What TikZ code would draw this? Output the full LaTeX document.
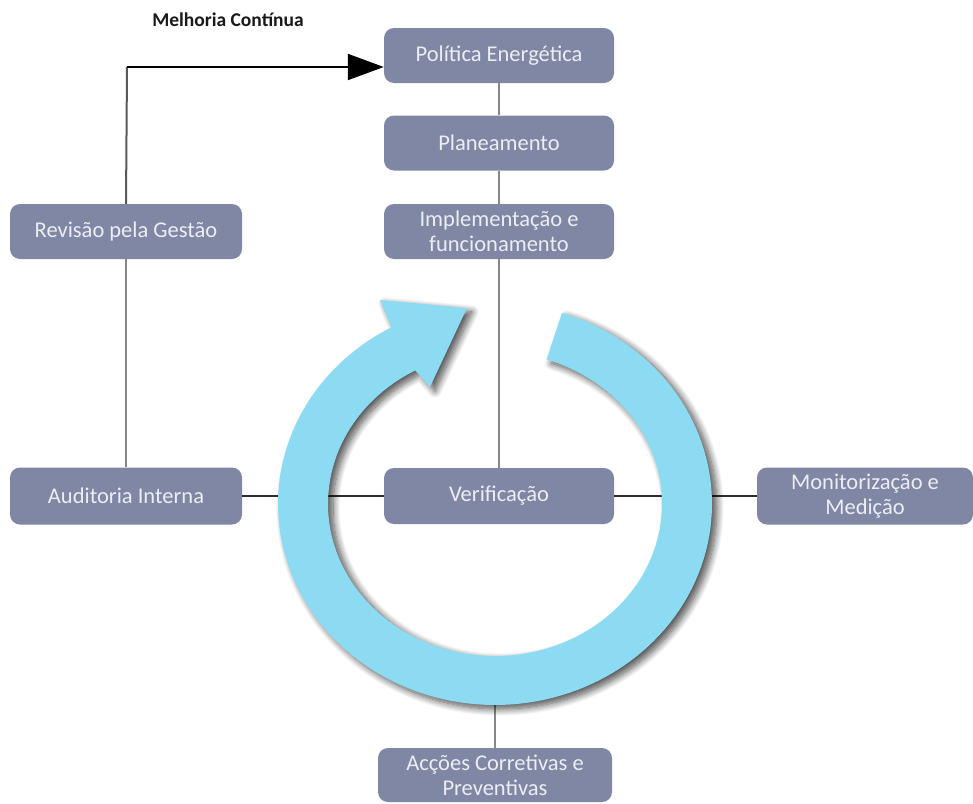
\documentclass[tikz,border=0pt]{standalone}
\usepackage{fontspec}
\setmainfont{Carlito}
\usetikzlibrary{shadows.blur, arrows.meta}
\definecolor{boxfill}{RGB}{127,135,165}
\definecolor{boxtext}{RGB}{236,238,243}
\definecolor{ringblue}{RGB}{141,219,243}
\definecolor{stemgray}{RGB}{135,135,135}
\definecolor{linkdark}{RGB}{45,45,45}
\begin{document}
\begin{tikzpicture}[x=1pt, y=-1pt,
  stage/.style={fill=boxfill, rounded corners=10pt, minimum width=230pt,
    minimum height=55pt, text=boxtext, align=center, inner sep=0pt,
    font=\fontsize{22.5}{25}\selectfont},
  stem/.style={draw=stemgray, line width=2.5pt},
  link/.style={draw=linkdark, line width=2pt},
  cycleband/.style={fill=ringblue, blur shadow={shadow xshift=5pt,
    shadow yshift=-4pt, shadow blur radius=7pt, shadow blur steps=12,
    shadow opacity=70}}]
\useasboundingbox (0,0) rectangle (973,803);

% stages
\node[stage] (pol)  at (499,55.5)  {Política Energética};
\node[stage] (plan) at (499,143)   {Planeamento};
\node[stage] (impl) at (499,231.5) {Implementação e\\funcionamento};
\node[stage, minimum width=232pt] (rev) at (126,231.5) {Revisão pela Gestão};
\node[stage, minimum width=232pt, minimum height=57pt] (aud) at (126,496) {Auditoria Interna};
\node[stage, minimum height=56pt] (ver) at (499,496) {Verificação};
\node[stage, minimum width=216pt, minimum height=57pt] (mon) at (865,496) {Monitorização e\\Medição};
\node[stage, minimum width=234pt, minimum height=54pt] (acc) at (495,775) {Acções Corretivas e\\Preventivas};

\node[font=\bfseries\fontsize{19.5}{22}\selectfont, text=black!90, inner sep=0pt] (lbl) at (228,20) {Melhoria Contínua};

% connectors
\coordinate (turn) at (127,67);
\coordinate (ringbot) at (495,700);
\draw[stem] (pol) -- (plan);
\draw[stem] (plan) -- (impl);
\draw[stem] (impl) -- (ver);
\draw[stem] (rev) -- (aud);
\draw[draw=black!65, line width=2pt] (rev.north) -- (turn);
\draw[link, draw=black, -{Triangle[length=36pt, width=26pt]}] (turn) -- (turn -| pol.west);
\draw[link] (aud.east) -- (ver.west);
\draw[link] (ver.east) -- (mon.west);
\draw[stem] (ringbot) -- (acc.north);

% circular improvement arrow
\fill[cycleband]
  plot[domain=72:-241.5, samples=140] ({495+217*cos(\x)}, {504-201*sin(\x)})
  -- (380,300) -- (467,308) -- (430,387)
  -- plot[domain=-241.5:72, samples=140] ({495+167*cos(\x)}, {504-152*sin(\x)})
  -- cycle;
\end{tikzpicture}
\end{document}
